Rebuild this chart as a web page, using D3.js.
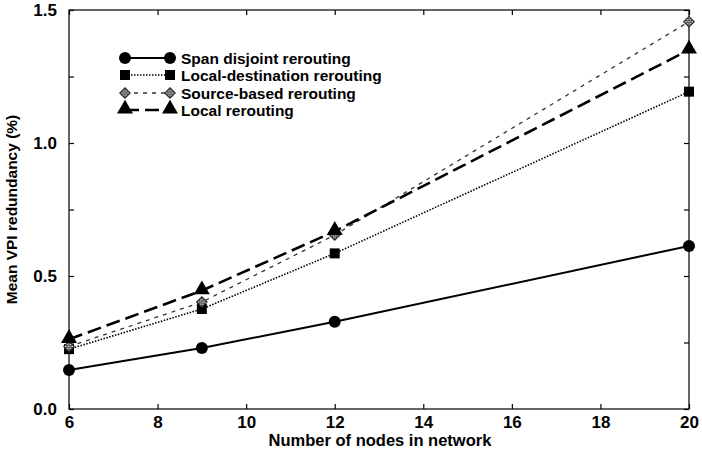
<!DOCTYPE html>
<html>
<head>
<meta charset="utf-8">
<script src="https://cdn.jsdelivr.net/npm/d3@7"></script>
<style>
  body { margin: 0; background: #fff; }
  svg text { font-family: "Liberation Sans", Arial, sans-serif; font-weight: bold; fill: #000; }
</style>
</head>
<body>
<svg id="chart" width="702" height="452"></svg>
<script>
// Data
var nodes = [6, 9, 12, 20];
var spanDisjoint = [0.147, 0.229, 0.328, 0.613];
var localDest = [0.225, 0.376, 0.585, 1.193];
var sourceBased = [0.235, 0.402, 0.654, 1.456];
var localReroute = [0.262, 0.445, 0.668, 1.35];
var seriesNames = ["Span disjoint rerouting", "Local-destination rerouting", "Source-based rerouting", "Local rerouting"];
var xTicks = [6, 8, 10, 12, 14, 16, 18, 20];
var yTicks = [0, 0.5, 1.0, 1.5];
var yMinor = [0.25, 0.75, 1.25];

var svg = d3.select("#chart");

// Layout (note: "top" clashes with window.top, so use plot* names)
var plotLeft = 69, plotRight = 689, plotTop = 10, plotBottom = 409;

var xScale = d3.scaleLinear().domain([6, 20]).range([plotLeft, plotRight]);
var yScale = d3.scaleLinear().domain([0, 1.5]).range([plotBottom, plotTop]);

// Styles per series
var series = [
    { name: seriesNames[0], values: spanDisjoint, marker: "circle", dash: null, width: 2 },
    { name: seriesNames[1], values: localDest, marker: "square", dash: "1.5,1.5", width: 1.6 },
    { name: seriesNames[2], values: sourceBased, marker: "diamond", dash: "4,5", width: 1.3 },
    { name: seriesNames[3], values: localReroute, marker: "triangle", dash: "14,6", width: 2.6 }
];

// Checkered fill for the diamond marker
var defs = svg.append("defs");
var pat = defs.append("pattern")
    .attr("id", "checker")
    .attr("width", 3).attr("height", 3)
    .attr("patternUnits", "userSpaceOnUse");
pat.append("rect").attr("width", 3).attr("height", 3).attr("fill", "#ddd");
pat.append("rect").attr("width", 1.5).attr("height", 1.5).attr("fill", "#111");
pat.append("rect").attr("x", 1.5).attr("y", 1.5).attr("width", 1.5).attr("height", 1.5).attr("fill", "#111");

function drawMarker(g, type, cx, cy) {
    if (type == "circle") {
        g.append("circle").attr("cx", cx).attr("cy", cy).attr("r", 6).attr("fill", "#000");
    } else if (type == "square") {
        g.append("rect").attr("x", cx - 5).attr("y", cy - 5).attr("width", 10).attr("height", 10).attr("fill", "#000");
    } else if (type == "diamond") {
        g.append("path")
            .attr("d", d3.symbol().type(d3.symbolSquare).size(56)())
            .attr("transform", "translate(" + cx + "," + cy + ") rotate(45)")
            .attr("fill", "url(#checker)")
            .attr("stroke", "#222").attr("stroke-width", 1);
    } else {
        g.append("path")
            .attr("d", d3.symbol().type(d3.symbolTriangle).size(110)())
            .attr("transform", "translate(" + cx + "," + (cy - 1) + ")")
            .attr("fill", "#000");
    }
}

// Frame
svg.append("rect")
    .attr("x", plotLeft).attr("y", plotTop)
    .attr("width", plotRight - plotLeft).attr("height", plotBottom - plotTop)
    .attr("fill", "none").attr("stroke", "#000").attr("stroke-width", 1.2);

// Axes with inward ticks (mirrored on top/right)
var tickLen = 5;
var axisX = d3.axisBottom(xScale).tickValues(xTicks).tickSize(-tickLen).tickPadding(7).tickFormat(d3.format("d"));
var axisXTop = d3.axisTop(xScale).tickValues(xTicks).tickSize(-tickLen).tickFormat("");
var axisY = d3.axisLeft(yScale).tickValues(yTicks).tickSize(-tickLen).tickPadding(12).tickFormat(d3.format(".1f"));
var axisYMinor = d3.axisLeft(yScale).tickValues(yMinor).tickSize(-tickLen).tickFormat("");
var axisYRight = d3.axisRight(yScale).tickValues(yTicks.concat(yMinor)).tickSize(-tickLen).tickFormat("");

svg.append("g").attr("transform", "translate(0," + plotBottom + ")").call(axisX);
svg.append("g").attr("transform", "translate(0," + plotTop + ")").call(axisXTop);
svg.append("g").attr("transform", "translate(" + plotLeft + ",0)").call(axisY);
svg.append("g").attr("transform", "translate(" + plotLeft + ",0)").call(axisYMinor);
svg.append("g").attr("transform", "translate(" + plotRight + ",0)").call(axisYRight);

svg.selectAll(".domain").remove();
svg.selectAll(".tick line").attr("stroke", "#000").attr("stroke-width", 1.2);
svg.selectAll(".tick text").style("font-size", "17px").style("font-family", "Liberation Sans, Arial, sans-serif").style("font-weight", "bold");

// Axis titles
svg.append("text")
    .attr("x", 380).attr("y", 446)
    .attr("text-anchor", "middle")
    .style("font-size", "16.5px")
    .text("Number of nodes in network");

svg.append("text")
    .attr("transform", "translate(17," + ((plotTop + plotBottom) / 2) + ") rotate(-90)")
    .attr("text-anchor", "middle")
    .style("font-size", "15.5px")
    .text("Mean VPI redundancy (%)");

// Lines
var line = d3.line()
    .x(function (d, i) { return xScale(nodes[i]); })
    .y(function (d) { return yScale(d); });

series.forEach(function (s) {
    svg.append("path")
        .datum(s.values)
        .attr("fill", "none")
        .attr("stroke", s.marker == "diamond" ? "#333" : "#000")
        .attr("stroke-width", s.width)
        .attr("stroke-dasharray", s.dash)
        .attr("d", line);
});

// Markers
series.forEach(function (s) {
    var g = svg.append("g");
    s.values.forEach(function (v, i) {
        drawMarker(g, s.marker, xScale(nodes[i]), yScale(v));
    });
});

// Legend
var legend = svg.append("g");
var legY = [58, 75, 93, 110];
series.forEach(function (s, i) {
    var y = legY[i];
    legend.append("line")
        .attr("x1", 125).attr("x2", 170).attr("y1", y).attr("y2", y)
        .attr("stroke", s.marker == "diamond" ? "#333" : "#000")
        .attr("stroke-width", s.width)
        .attr("stroke-dasharray", s.dash);
    drawMarker(legend, s.marker, 125, y);
    drawMarker(legend, s.marker, 170, y);
    legend.append("text")
        .attr("x", 181).attr("y", y + 5.5)
        .style("font-size", "15.5px")
        .text(s.name);
});
</script>
</body>
</html>
